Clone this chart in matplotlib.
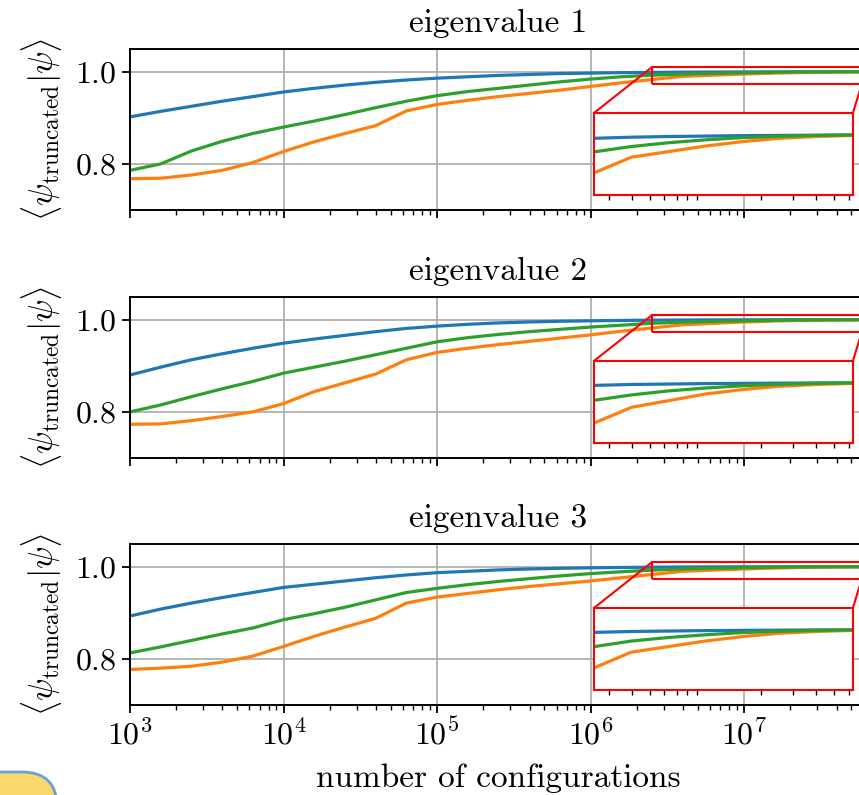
import numpy as np
import matplotlib
matplotlib.use("Agg")
import matplotlib.pyplot as plt
from matplotlib.patches import FancyBboxPatch
from mpl_toolkits.axes_grid1.inset_locator import mark_inset

plt.rcParams["font.family"] = "serif"
plt.rcParams["font.serif"] = ["cmr10"]
plt.rcParams["mathtext.fontset"] = "cm"
plt.rcParams["axes.formatter.use_mathtext"] = True

# number of configurations, 10^3 ... 10^7.8 in steps of 0.2 decades
log_n = [3.0, 3.2, 3.4, 3.6, 3.8, 4.0, 4.2, 4.4, 4.6, 4.8, 5.0, 5.2, 5.4,
         5.6, 5.8, 6.0, 6.2, 6.4, 6.6, 6.8, 7.0, 7.2, 7.4, 7.6, 7.8]
n_configs = [10 ** v for v in log_n]

titles = ["eigenvalue 1", "eigenvalue 2", "eigenvalue 3"]

# overlap <psi_truncated|psi> per eigenvalue, three truncation schemes
blue = [
    [.902, .914, .925, .936, .946, .956, .964, .971, .977, .982, .986, .989, .992,
     .994, .996, .997, .998, .9985, .999, .9993, .9995, .9997, .9998, .9999, 1.0],
    [.880, .897, .913, .926, .938, .949, .958, .966, .974, .981, .986, .990, .993,
     .995, .9965, .9975, .9983, .9989, .9993, .9995, .9997, .9998, .9999, 1.0, 1.0],
    [.893, .908, .921, .933, .944, .955, .962, .969, .976, .982, .987, .990, .993,
     .995, .9965, .9975, .9983, .9989, .9993, .9995, .9997, .9998, .9999, 1.0, 1.0],
]
orange = [
    [.768, .769, .776, .786, .803, .827, .848, .866, .883, .915, .929, .938, .946,
     .953, .960, .968, .976, .983, .990, .9925, .995, .997, .9985, .9993, .9998],
    [.773, .774, .781, .790, .800, .818, .844, .863, .882, .913, .929, .938, .946,
     .953, .960, .967, .975, .982, .989, .992, .995, .997, .9985, .9993, .9998],
    [.777, .780, .784, .793, .806, .827, .849, .869, .888, .921, .934, .942, .950,
     .957, .963, .969, .976, .983, .990, .9925, .995, .997, .9985, .9993, .9998],
]
green = [
    [.786, .800, .828, .849, .866, .880, .893, .907, .922, .936, .948, .957, .964,
     .971, .978, .984, .989, .9924, .9948, .9965, .9978, .9988, .9994, .9998, 1.0],
    [.800, .815, .833, .850, .866, .884, .897, .910, .924, .938, .952, .961, .968,
     .974, .979, .984, .988, .9922, .9946, .9964, .9977, .9987, .9994, .9998, 1.0],
    [.813, .826, .840, .854, .867, .885, .898, .912, .928, .944, .953, .961, .968,
     .974, .980, .985, .989, .9925, .995, .9966, .9978, .9988, .9994, .9998, 1.0],
]

colors = ["#1f77b4", "#ff7f0e", "#2ca02c"]

fig = plt.figure(figsize=(8.59, 7.95), dpi=100)

bottoms = [0.7358, 0.4239, 0.1132]
axes = []
for i in range(3):
    ax = fig.add_axes([0.1513, bottoms[i], 0.858, 0.2030],
                      sharex=axes[0] if axes else None)
    axes.append(ax)

    for series, col in zip((blue, orange, green), colors):
        ax.plot(n_configs, series[i], color=col, lw=2.3)

    ax.set_xscale("log")
    ax.set_xlim(n_configs[0], n_configs[-1])
    ax.set_ylim(0.7, 1.05)
    ax.set_yticks([0.8, 1.0])
    ax.grid(True, color="#b0b0b0", lw=1.3)
    ax.tick_params(which="major", length=6, width=1.3, labelsize=23)
    ax.tick_params(which="minor", length=3.5, width=1.0)
    for s in ax.spines.values():
        s.set_linewidth(1.4)
    ax.set_title(titles[i], fontsize=24, pad=12)
    ax.set_ylabel(r"$\langle \psi_{\mathrm{truncated}} | \psi \rangle$", fontsize=24)
    ax.yaxis.set_label_coords(-0.09, 0.5)
    if i < 2:
        ax.tick_params(which="both", labelbottom=False)

    # zoom on the converged tail
    axins = ax.inset_axes([0.63, 0.093, 0.351, 0.51])
    for series, col in zip((blue, orange, green), colors):
        axins.plot(n_configs, series[i], color=col, lw=2.3)
    axins.set_xscale("log")
    axins.set_xlim(10 ** 6.4, 10 ** 7.8)
    axins.set_ylim(0.973, 1.01)
    axins.set_xticks([])
    axins.set_yticks([])
    axins.tick_params(which="both", labelbottom=False, length=3.5, width=1.0)
    for s in axins.spines.values():
        s.set_edgecolor("red")
        s.set_linewidth(1.5)
    mark_inset(ax, axins, loc1=2, loc2=1, fc="none", ec="red", lw=1.5, zorder=3)

axes[2].set_xlabel("number of configurations", fontsize=24)
axes[2].xaxis.set_label_coords(0.5, -0.36)

# rounded sticky badge in the lower left corner
badge = FancyBboxPatch((-0.6, -0.6), 1.17, 0.83,
                       boxstyle="round,pad=0,rounding_size=0.35",
                       transform=fig.dpi_scale_trans, facecolor="#fcd76b",
                       edgecolor="#6a9fd8", lw=2, clip_on=False)
fig.patches.append(badge)

fig.savefig("out.png", dpi=100)
